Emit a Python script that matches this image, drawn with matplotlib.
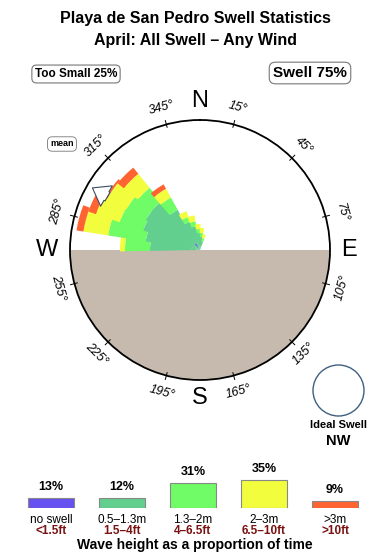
import numpy as np
import matplotlib
matplotlib.use('Agg')
import matplotlib.pyplot as plt
from matplotlib.patches import Ellipse

plt.rcParams['font.family'] = ['Liberation Sans', 'DejaVu Sans']

# swell rose: direction (deg) and band lengths (0..130 = circle radius)
directions = [275, 285, 295, 305, 315, 325, 335, 345, 355, 5, 15]
band_noswell = [0, 0, 0, 0, 0, 8, 0, 0, 0, 0, 0]
band_small = [50, 55, 60, 62, 62, 38, 30, 24, 17, 13, 9]
band_mid = [25, 38, 25, 22, 18, 14, 5, 5, 4, 4, 3]
band_big = [5, 25, 25, 22, 18, 10, 6, 6, 5, 5, 4]
band_huge = [0, 7, 8, 2, 8, 5, 0, 0, 0, 0, 0]
mean_dir = 300

band_colors = ['#6650f0', '#62cf8e', '#6ffc66', '#f2fd3e', '#fe6331']

# legend
leg_pct = [13, 12, 31, 35, 9]
leg_metric = ['no swell', '0.5\u20131.3m', '1.3\u20132m', '2\u20133m', '>3m']
leg_feet = ['<1.5ft', '1.5\u20134ft', '4\u20136.5ft', '6.5\u201310ft', '>10ft']

deg_labels = [15, 45, 75, 105, 135, 165, 195, 225, 255, 285, 315, 345]

W, H = 390, 560
fig = plt.figure(figsize=(W / 100, H / 100), dpi=100)

fig.text(195 / W, 1 - 18 / H, 'Playa de San Pedro Swell Statistics',
         ha='center', va='center', fontsize=11.5, fontweight='bold')
fig.text(195 / W, 1 - 41 / H, 'April: All Swell \u2013 Any Wind',
         ha='center', va='center', fontsize=11.5, fontweight='bold')

box = dict(boxstyle='round,pad=0.25,rounding_size=0.4', fc='white', ec='#777777', lw=0.8)
fig.text(76 / W, 1 - 74 / H, 'Too Small 25%', ha='center', va='center',
         fontsize=8.5, fontweight='bold', bbox=box)
fig.text(310 / W, 1 - 73 / H, 'Swell 75%', ha='center', va='center',
         fontsize=11, fontweight='bold', bbox=box)
fig.text(62 / W, 1 - 144 / H, 'mean', ha='center', va='center',
         fontsize=6.5, fontweight='bold',
         bbox=dict(boxstyle='round,pad=0.3,rounding_size=0.5', fc='white', ec='#777777', lw=0.6))

# polar rose
cx, cy, R = 200, 250, 130
ax = fig.add_axes([(cx - R) / W, (H - cy - R) / H, 2 * R / W, 2 * R / H], projection='polar')
ax.set_theta_zero_location('N')
ax.set_theta_direction(-1)
ax.set_ylim(0, 130)
ax.grid(False)
ax.set_xticks([])
ax.set_yticks([])
ax.spines['polar'].set_linewidth(1.3)
ax.set_facecolor('white')

# land (southern half)
th = np.radians(np.linspace(90, 270, 200))
ax.fill_between(th, 0, 130, color='#c5baad', lw=0, zorder=1)

theta = np.radians(directions)
width = np.radians(12)
bands = [band_noswell, band_small, band_mid, band_big, band_huge]
for i in range(len(directions)):
    bottom = 0
    for b, col in zip(bands, band_colors):
        if b[i] > 0:
            ax.bar(theta[i], b[i], width=width, bottom=bottom, color=col, lw=0, zorder=2)
        bottom += b[i]

# mean arrow
ax.annotate('', xy=(np.radians(mean_dir), 127), xytext=(np.radians(mean_dir), 104),
            arrowprops=dict(arrowstyle='simple,head_width=1.3,head_length=0.9,tail_width=0.55',
                            mutation_scale=13, fc='white', ec='#3c4c60', lw=0.8), zorder=4)

# ticks and degree labels
for d in deg_labels:
    t = np.radians(d)
    ax.plot([t, t], [127, 134], color='black', lw=0.7, clip_on=False, zorder=3)
    if d <= 90 or d >= 270:
        rot = -d if d <= 90 else 360 - d
    else:
        rot = 180 - d
    ax.text(t, 147, f'{d}\u00b0', rotation=rot, rotation_mode='anchor',
            ha='center', va='center', fontsize=9, style='italic', clip_on=False)

for lab, d, r in [('N', 0, 149), ('E', 90, 149), ('S', 180, 148), ('W', 270, 153)]:
    ax.text(np.radians(d), r, lab, ha='center', va='center', fontsize=17, clip_on=False)

# ideal swell marker
fig.add_artist(Ellipse((338.5 / W, 1 - 390.5 / H), 51 / W, 51 / H,
                       transform=fig.transFigure, fc='none', ec='#3f5f80', lw=1.0))
fig.text(338 / W, 1 - 425 / H, 'Ideal Swell', ha='center', va='center',
         fontsize=8, fontweight='bold')
fig.text(338 / W, 1 - 441 / H, 'NW', ha='center', va='center',
         fontsize=10.5, fontweight='bold')

# legend bars
lax = fig.add_axes([15.5 / W, (H - 508) / H, 355 / W, 40 / H])
x = np.arange(len(leg_pct))
lax.bar(x, leg_pct, width=0.634, color=band_colors, edgecolor='#888888', lw=0.8)
lax.set_xlim(-0.5, 4.5)
lax.set_ylim(0, 50)
lax.axis('off')
for i, p in enumerate(leg_pct):
    lax.annotate(f'{p}%', xy=(i, p), xytext=(0, 5), textcoords='offset pixels',
                 ha='center', va='bottom', fontsize=9, fontweight='bold')
    lax.annotate(leg_metric[i], xy=(i, 0), xytext=(0, -12), textcoords='offset pixels',
                 ha='center', va='center', fontsize=8.5)
    lax.annotate(leg_feet[i], xy=(i, 0), xytext=(0, -23), textcoords='offset pixels',
                 ha='center', va='center', fontsize=8.5, fontweight='bold', color='#7a1212')

fig.text(195 / W, 1 - 545 / H, 'Wave height as a proportion of time',
         ha='center', va='center', fontsize=10, fontweight='bold')

fig.savefig('out.png', dpi=100)
